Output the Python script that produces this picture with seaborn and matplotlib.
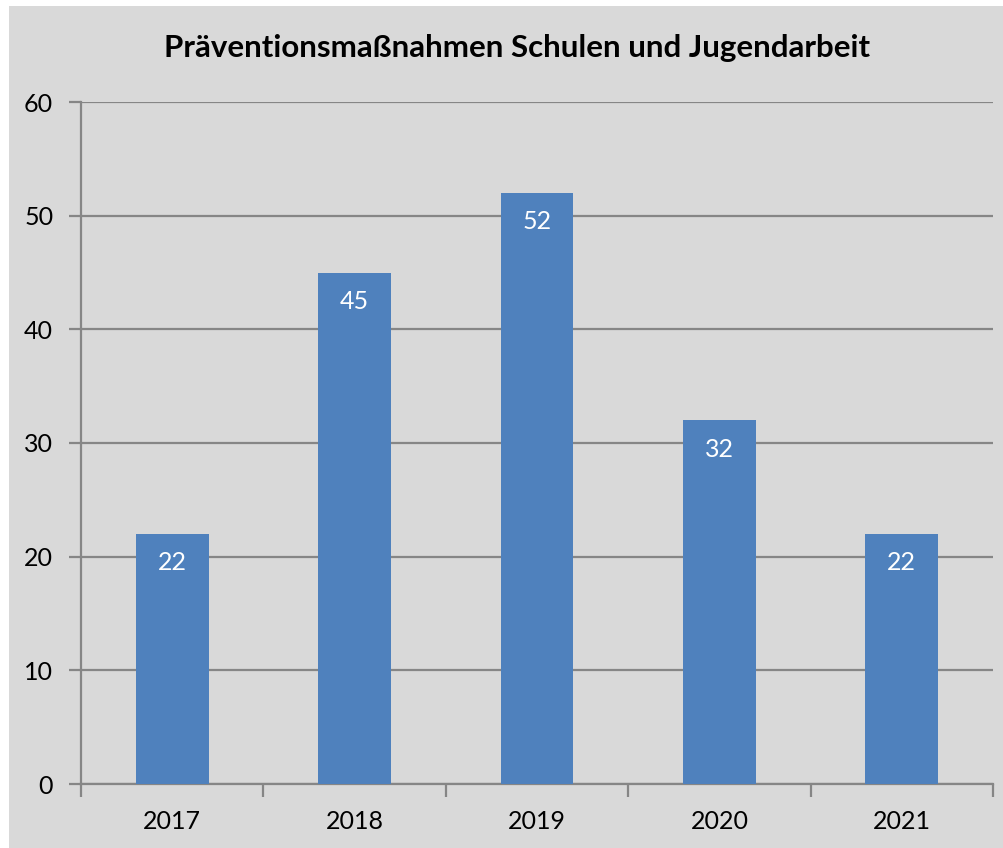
import matplotlib
matplotlib.use("Agg")
import matplotlib.pyplot as plt
import seaborn as sns
import pandas as pd

years = ["2017", "2018", "2019", "2020", "2021"]
values = [22, 45, 52, 32, 22]
title = "Präventionsmaßnahmen Schulen und Jugendarbeit"

sns.set_theme(style="white")
plt.rcParams['font.family'] = ['Lato', 'DejaVu Sans']

W, H = 1004, 848
fig = plt.figure(figsize=(W / 100, H / 100), dpi=100)
fig.patch.set_facecolor("white")
# gray chart area
bg = fig.add_axes([9 / W, 0, 1 - 9 / W, 1 - 6 / H])
bg.set_facecolor("#d9d9d9")
bg.set_xticks([]); bg.set_yticks([])
for s in bg.spines.values():
    s.set_visible(False)
bg.set_zorder(-10)

ax = fig.add_axes([81 / W, 64 / H, (993 - 81) / W, (784 - 102) / H])
ax.set_facecolor("none")
df = pd.DataFrame({"year": years, "value": values})
sns.barplot(data=df, x="year", y="value", color="#4f81bd", saturation=1,
            width=0.4, ax=ax, zorder=3, linewidth=0, edgecolor="none")
ax.set_ylim(0, 60)
ax.set_xlim(-0.5, len(years) - 0.5)
ax.set_yticks(range(0, 61, 10))
ax.yaxis.grid(True, color="#868686", linewidth=1.6)
ax.set_axisbelow(True)
ax.set_xlabel(""); ax.set_ylabel("")
for side in ["top", "right"]:
    ax.spines[side].set_visible(False)
for side in ["left", "bottom"]:
    ax.spines[side].set_color("#868686")
    ax.spines[side].set_linewidth(1.6)
ax.tick_params(axis="y", which="both", left=True, length=9, width=1.6,
               color="#868686", labelsize=18, labelcolor="black", pad=11)
ax.set_xticks(range(len(years)))
ax.set_xticklabels(years)
ax.tick_params(axis="x", which="major", bottom=False, labelsize=18,
               labelcolor="black", pad=13)
ax.set_xticks([i - 0.5 for i in range(len(years) + 1)], minor=True)
ax.tick_params(axis="x", which="minor", bottom=True, length=9, width=1.6,
               color="#868686")

for c in ax.containers:
    ax.bar_label(c, labels=[str(v) for v in values], label_type="edge",
                 padding=-29, color="white", fontsize=18)

fig.text(517 / W, 1 - 48 / H, title, ha="center", va="center",
         fontsize=22.5, fontweight="bold", color="black")

fig.savefig("out.png", dpi=100)
